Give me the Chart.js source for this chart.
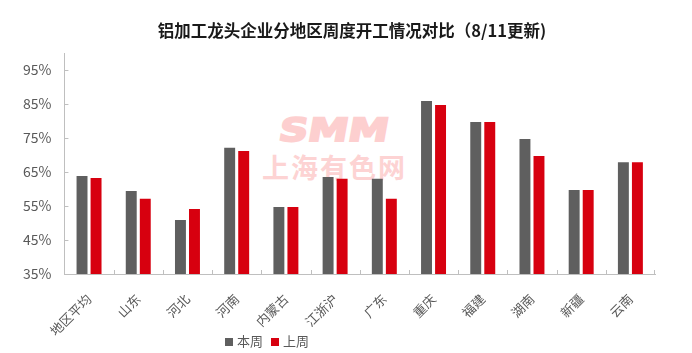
<!DOCTYPE html>
<html>
<head>
<meta charset="utf-8">
<script src="https://cdn.jsdelivr.net/npm/chart.js@4"></script>
<style>
  html, body { margin:0; padding:0; background:#fff; }
  #wrap { position:relative; width:692px; height:353px; overflow:hidden; }
  #wm1 { position:absolute; left:283px; top:110px; font-family:"DejaVu Sans"; font-weight:bold; font-size:32px; color:#fdcfcf; -webkit-text-stroke:2px #fdcfcf; transform-origin:0 0; transform:scaleX(1.26) skewX(-8deg); line-height:40px; }
  #wm2 { position:absolute; left:262px; top:150px; font-family:"Noto Sans CJK SC"; font-weight:bold; font-size:27px; color:#fdd3d3; letter-spacing:2px; line-height:34px; white-space:nowrap; }
  canvas { position:absolute; left:0; top:0; }
  #title { position:absolute; left:0; width:704px; top:20px; text-align:center; font-family:"Noto Sans CJK SC"; font-weight:bold; font-size:16.5px; line-height:20px; color:#1a1a1a; white-space:nowrap; }
  #legend { position:absolute; left:225px; top:332px; font-family:"Noto Sans CJK SC"; font-size:13px; color:#595959; white-space:nowrap; line-height:18px; }
  #legend span.sq { display:inline-block; width:8px; height:8px; margin-right:4px; vertical-align:0px; }
</style>
</head>
<body>
<div id="wrap">
  <div id="wm1">SMM</div>
  <div id="wm2">上海有色网</div>
  <canvas id="c" width="692" height="353"></canvas>
  <div id="title"></div>
  <div id="legend"></div>
</div>
<script>
const titleText = '铝加工龙头企业分地区周度开工情况对比（8/11更新)';
const categories = ['地区平均','山东','河北','河南','内蒙古','江浙沪','广东','重庆','福建','湖南','新疆','云南'];
const seriesNames = ['本周','上周'];
const thisWeek = [63.8, 59.4, 50.9, 72.1, 54.7, 63.5, 63.0, 85.9, 79.7, 74.7, 59.7, 67.9];
const lastWeek = [63.2, 57.1, 54.1, 71.2, 54.7, 63.0, 57.1, 84.7, 79.7, 69.7, 59.7, 67.9];
const yTicks = [35, 45, 55, 65, 75, 85, 95];
const colors = ['#5f5f5f', '#d7000f'];

document.getElementById('title').textContent = titleText;
const legendEl = document.getElementById('legend');
legendEl.innerHTML = seriesNames.map((n,i)=>
  '<span class="sq" style="background:'+colors[i]+'"></span>'+n).join('<span style="display:inline-block;width:8px"></span>');

const innerTicks = {
  id:'innerTicks',
  afterDraw(chart){
    const ctx = chart.ctx, xs = chart.scales.x, ys = chart.scales.y;
    ctx.save();
    ctx.strokeStyle = '#bfbfbf';
    ctx.lineWidth = 1;
    ctx.beginPath();
    yTicks.forEach(v=>{
      const y = Math.round(ys.getPixelForValue(v)) + 0.5;
      ctx.moveTo(xs.left, y); ctx.lineTo(xs.left + 4, y);
    });
    for (let i = 1; i <= categories.length; i++) {
      const x = Math.round((xs.getPixelForValue(i-1) + xs.getPixelForValue(i)) / 2) + 0.5;
      const xx = i === categories.length ? Math.round(xs.right) - 0.5 : x;
      ctx.moveTo(xx, ys.bottom); ctx.lineTo(xx, ys.bottom - 4);
    }
    ctx.stroke();
    ctx.restore();
  }
};

new Chart(document.getElementById('c'), {
  type:'bar',
  data:{
    labels:categories,
    datasets:[
      {label:seriesNames[0], data:thisWeek, backgroundColor:colors[0], categoryPercentage:0.57, barPercentage:0.78},
      {label:seriesNames[1], data:lastWeek, backgroundColor:colors[1], categoryPercentage:0.57, barPercentage:0.78}
    ]
  },
  options:{
    responsive:false,
    animation:false,
    devicePixelRatio:1,
    layout:{padding:{left:10, right:37, top:53, bottom:1}},
    plugins:{
      legend:{display:false},
      tooltip:{enabled:false},
      title:{display:false}
    },
    scales:{
      x:{
        afterFit(s){ s.height = 78; },
        grid:{display:false, drawTicks:false},
        border:{display:true, color:'#bfbfbf', width:1},
        ticks:{color:'#595959', font:{family:'"Noto Sans CJK SC"', size:13}, maxRotation:45, minRotation:45, padding:17}
      },
      y:{
        min:35, max:100,
        afterBuildTicks(s){ s.ticks = yTicks.map(v=>({value:v})); },
        grid:{display:false, drawTicks:false},
        border:{display:true, color:'#bfbfbf', width:1},
        ticks:{color:'#595959', font:{family:'"Noto Sans CJK SC"', size:14}, padding:13, callback:v=>v+'%'}
      }
    }
  },
  plugins:[innerTicks]
});
</script>
</body>
</html>
